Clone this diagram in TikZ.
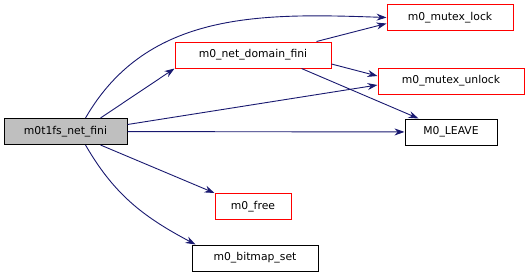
\documentclass[tikz,border=0pt]{standalone}
\usepackage{fontspec}
\setmainfont{DejaVu Sans}
\usepackage{tikz}
\usetikzlibrary{arrows,arrows.meta}
\definecolor{edgeblue}{HTML}{191970}
\definecolor{rootgray}{HTML}{BFBFBF}

\begin{document}
\begin{tikzpicture}[>={Stealth[length=10pt,width=7pt]}, x=1pt, y=-1pt]
			\tikzstyle{fn} = [draw, line width=1pt, minimum height=26pt, inner sep=3pt, font=\fontsize{10.8}{13}\selectfont]
			\tikzstyle{ext} = [fn, draw=red]
			\tikzstyle{call} = [edgeblue, line width=0.9pt, ->]

			\useasboundingbox (0,0) rectangle (527,277);

			\begin{scope}
			\path[->]

			node[fn, fill=rootgray, minimum width=123pt] (fini) at (65.5,131.5) {m0t1fs\_net\_fini}
			node[ext, minimum width=156pt] (domfini) at (253,55) {m0\_net\_domain\_fini}
			node[ext, minimum width=126pt] (lock) at (450,17.5) {m0\_mutex\_lock}
			node[ext, minimum width=146pt] (unlock) at (451,81) {m0\_mutex\_unlock}
			node[fn, minimum width=92pt] (leave) at (451,132) {M0\_LEAVE}
			node[ext, minimum width=76pt] (free) at (253,206.5) {m0\_free}
			node[fn, minimum width=126pt] (bitmap) at (255,258) {m0\_bitmap\_set}

			(fini.north) ++(20,0) edge[call, out=60, in=178] (lock.west)
			(fini.north) ++(35,0) edge[call] (domfini.south west)
			(fini.east) ++(0,-7) edge[call] ([yshift=-4pt]unlock.west)
			(fini) edge[call] (leave)
			(fini.south) ++(35,0) edge[call] (free.north west)
			(fini.south) ++(20,0) edge[call, out=-60, in=152] ([xshift=4pt]bitmap.north west)
			(domfini.north east) ++(-15,0) edge[call] ([yshift=-6pt]lock.west)
			([yshift=-9pt]domfini.east) edge[call] ([yshift=5pt]unlock.west)
			(domfini.south east) ++(-30,0) edge[call] ([xshift=14pt]leave.north west)
			;
			\end{scope}

			\end{tikzpicture}
\end{document}
